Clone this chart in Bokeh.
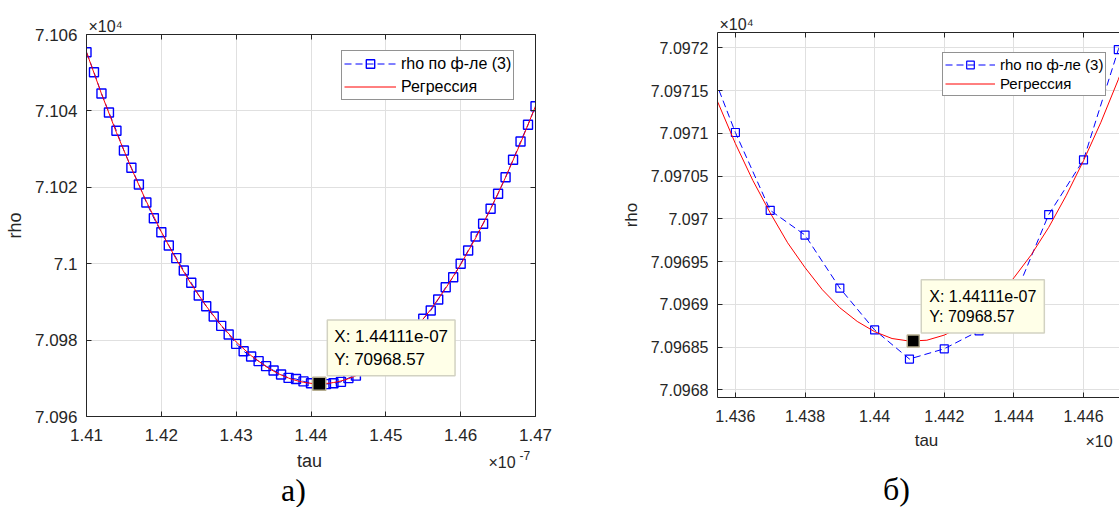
from bokeh.plotting import figure
from bokeh.models import (FixedTicker, CustomJSTickFormatter, LinearAxis, Label,
                          Legend, LegendItem, Range1d, Title)
from bokeh.layouts import row, column
from bokeh.embed import file_html
from bokeh.resources import INLINE

# ---------------- data ----------------
TAU_UNIT = 1e-7
tau_e7 = [1.410, 1.411, 1.412, 1.413, 1.414, 1.415, 1.416, 1.417, 1.418, 1.419,
          1.420, 1.421, 1.422, 1.423, 1.424, 1.425, 1.426, 1.427, 1.428, 1.429,
          1.430, 1.431, 1.432, 1.433, 1.434, 1.435, 1.436, 1.437, 1.438, 1.439,
          1.440, 1.441, 1.442, 1.443, 1.444, 1.445, 1.446, 1.447, 1.448, 1.449,
          1.450, 1.451, 1.452, 1.453, 1.454, 1.455, 1.456, 1.457, 1.458, 1.459,
          1.460, 1.461, 1.462, 1.463, 1.464, 1.465, 1.466, 1.467, 1.468, 1.469,
          1.470]
rho = [71055.37, 71050.13, 71044.55, 71039.58, 71034.79, 71029.63, 71025.10, 71020.73,
       71016.02, 71011.91, 71008.25, 71004.76, 71001.45, 70998.22, 70995.00, 70991.68,
       70988.88, 70986.18, 70983.73, 70981.47, 70979.02, 70977.10, 70975.71, 70974.49,
       70973.18, 70972.06, 70971.01, 70970.10, 70969.81, 70969.19, 70968.70, 70968.36,
       70968.48, 70968.69, 70969.07, 70970.05, 70970.69, 70971.98, 70972.90, 70974.10,
       70975.60, 70977.20, 70979.00, 70981.00, 70983.20, 70985.58, 70987.75, 70990.63,
       70993.85, 70996.47, 70999.97, 71003.46, 71007.12, 71010.44, 71014.37, 71018.30,
       71022.64, 71027.20, 71032.00, 71036.36, 71041.23]

reg_tau_e7 = [1.410, 1.412, 1.414, 1.416, 1.418, 1.420, 1.422, 1.424, 1.426, 1.428,
              1.430, 1.432, 1.434, 1.435, 1.4355, 1.436, 1.4365, 1.437, 1.4375, 1.438,
              1.4385, 1.439, 1.4395, 1.440, 1.4405, 1.441, 1.4415, 1.442, 1.4425, 1.443,
              1.4435, 1.444, 1.4445, 1.445, 1.4455, 1.446, 1.4465, 1.447, 1.4475, 1.448,
              1.450, 1.452, 1.454, 1.456, 1.458, 1.460, 1.462, 1.464, 1.466, 1.468, 1.470]
reg_rho = [71055.37, 71044.49, 71034.35, 71024.95, 71016.28, 71008.34, 71001.13, 70994.65,
           70988.89, 70983.85, 70979.53, 70975.93, 70973.05, 70971.88, 70971.36, 70970.88,
           70970.45, 70970.07, 70969.72, 70969.43, 70969.17, 70968.96, 70968.80, 70968.68,
           70968.60, 70968.57, 70968.58, 70968.64, 70968.74, 70968.89, 70969.07, 70969.31,
           70969.58, 70969.90, 70970.27, 70970.68, 70971.13, 70971.63, 70972.17, 70972.75,
           70975.52, 70978.99, 70983.15, 70988.01, 70993.56, 70999.79, 71006.71, 71014.32,
           71022.61, 71031.58, 71041.23]

tip_tau_e7 = 1.44111
tip_rho = 70968.57

series_label = "rho по ф-ле (3)"
reg_label = "Регрессия"
x_title = "tau"
y_title = "rho"

# panel a) axes
a_xlim_e7 = (1.41, 1.47)
a_ylim = (70960, 71060)
a_xticks_e7 = [1.41, 1.42, 1.43, 1.44, 1.45, 1.46, 1.47]
a_xlabels = ["1.41", "1.42", "1.43", "1.44", "1.45", "1.46", "1.47"]
a_yticks = [70960, 70980, 71000, 71020, 71040, 71060]
a_ylabels = ["7.096", "7.098", "7.1", "7.102", "7.104", "7.106"]

# panel б) axes
b_xlim_e7 = (1.435486, 1.447034)
b_ylim = (70967.91, 70972.18)
b_xticks_e7 = [1.436, 1.438, 1.440, 1.442, 1.444, 1.446]
b_xlabels = ["1.436", "1.438", "1.44", "1.442", "1.444", "1.446"]
b_yticks = [70968, 70968.5, 70969, 70969.5, 70970, 70970.5, 70971, 70971.5, 70972]
b_ylabels = ["7.0968", "7.09685", "7.0969", "7.09695", "7.097", "7.09705",
             "7.0971", "7.09715", "7.0972"]

tau = [t * TAU_UNIT for t in tau_e7]
reg_tau = [t * TAU_UNIT for t in reg_tau_e7]
tip_tau = tip_tau_e7 * TAU_UNIT

AX = "#262626"
GRID = "#e0e0e0"
FONT = "Liberation Sans"
SERIF = "Liberation Serif"


def fmt(tick_values, tick_texts):
    return CustomJSTickFormatter(args=dict(tv=tick_values, tt=tick_texts), code="""
        let best = 0, bd = Infinity;
        for (let i = 0; i < tv.length; i++) {
            const d = Math.abs(tv[i] - tick);
            if (d < bd) { bd = d; best = i; }
        }
        return tt[best];
    """)


def style_axis(ax, fs):
    ax.axis_line_color = AX
    ax.axis_line_width = 1
    ax.major_tick_line_color = AX
    ax.major_tick_in = 5
    ax.major_tick_out = 0
    ax.minor_tick_line_color = None
    ax.major_label_text_color = AX
    ax.major_label_text_font = FONT
    ax.major_label_text_font_size = fs


def blank_axis(tick_values):
    ax = LinearAxis(ticker=FixedTicker(ticks=tick_values),
                    formatter=CustomJSTickFormatter(code="return '';"))
    style_axis(ax, "0px")
    ax.major_label_standoff = 0
    return ax


def make_panel(cfg):
    xlim = (cfg["xlim"][0] * TAU_UNIT, cfg["xlim"][1] * TAU_UNIT)
    ylim = cfg["ylim"]
    xt = [t * TAU_UNIT for t in cfg["xticks"]]
    p = figure(frame_width=cfg["fw"], frame_height=cfg["fh"],
               min_border_left=cfg["mbl"], min_border_right=cfg["mbr"],
               min_border_top=cfg["mbt"], min_border_bottom=cfg["mbb"],
               x_range=Range1d(*xlim), y_range=Range1d(*ylim),
               toolbar_location=None, output_backend="svg",
               background_fill_color="white", border_fill_color="white",
               outline_line_color=None)
    fs = cfg["tick_fs"]
    xa = p.xaxis[0]
    ya = p.yaxis[0]
    xa.ticker = FixedTicker(ticks=xt)
    xa.formatter = fmt(xt, cfg["xlabels"])
    ya.ticker = FixedTicker(ticks=cfg["yticks"])
    ya.formatter = fmt(cfg["yticks"], cfg["ylabels"])
    style_axis(xa, fs)
    style_axis(ya, fs)
    xa.major_label_standoff = 12
    ya.major_label_standoff = 9
    ya.axis_label = y_title
    ya.axis_label_text_font = FONT
    ya.axis_label_text_font_size = cfg["lab_fs"]
    ya.axis_label_text_font_style = "normal"
    ya.axis_label_text_color = AX
    ya.axis_label_standoff = 7
    p.xgrid.ticker = FixedTicker(ticks=xt)
    p.ygrid.ticker = FixedTicker(ticks=cfg["yticks"])
    for g in (p.xgrid[0], p.ygrid[0]):
        g.grid_line_color = GRID
        g.grid_line_width = 1
    p.add_layout(blank_axis(xt), "above")
    if cfg["right_axis"]:
        p.add_layout(blank_axis(cfg["yticks"]), "right")
    # exponent of the y axis, above the frame
    p.add_layout(Title(text="\u00d710\u2074", align="left", offset=cfg["e4_dx"],
                       standoff=0, text_font=FONT, text_font_size=cfg["exp_fs"],
                       text_font_style="normal", text_color=AX), "above")

    line_r = p.line(tau, rho, line_color="#0000ff", line_width=1, line_dash="7 4")
    sc_r = p.scatter(tau, rho, marker="square", size=cfg["msize"], line_color="#0000ff",
                     fill_color=None, line_width=cfg["mlw"])
    reg_r = p.line(reg_tau, reg_rho, line_color="#ff0000", line_width=1)
    p.scatter([tip_tau], [tip_rho], marker="square", size=cfg["tip_size"],
              fill_color="black", line_color="#b5ad8f", line_width=1.5)

    leg = Legend(items=[LegendItem(label=series_label, renderers=[line_r, sc_r]),
                        LegendItem(label=reg_label, renderers=[reg_r])],
                 location=cfg["leg_loc"], orientation="vertical",
                 border_line_color=AX, border_line_width=1,
                 background_fill_color="white", background_fill_alpha=1,
                 label_text_font=FONT, label_text_font_size=cfg["leg_fs"],
                 label_text_color="black",
                 glyph_width=cfg["glyph_w"], glyph_height=cfg["row_h"],
                 label_height=cfg["row_h"], label_standoff=5,
                 spacing=cfg["leg_spacing"], padding=2, margin=0)
    p.add_layout(leg)

    tip_text = f"X: {tip_tau_e7}e-07\nY: {tip_rho:.2f}"
    p.add_layout(Label(x=tip_tau, y=tip_rho, text=tip_text,
                       x_offset=cfg["tip_off"][0], y_offset=cfg["tip_off"][1],
                       text_align="left", text_baseline="bottom",
                       text_font=FONT, text_font_size=cfg["tip_fs"], text_color="black",
                       background_fill_color="#ffffe8", background_fill_alpha=1,
                       border_line_color="#d2d2c2", border_line_width=1.5,
                       padding=cfg["tip_pad"]))

    # strip under the panel: axis title, exponent of x and the panel letter
    H = cfg["strip_h"]
    s = figure(frame_width=cfg["fw"], frame_height=H, title=None,
               min_border_left=cfg["mbl"], min_border_right=cfg["mbr"],
               min_border_top=0, min_border_bottom=0,
               x_range=Range1d(*xlim), y_range=Range1d(0, H),
               x_axis_type=None, y_axis_type=None,
               toolbar_location=None, output_backend="svg",
               background_fill_color="white", border_fill_color="white",
               outline_line_color=None)
    x0 = xlim[0]

    def lab(text, xo, ypx, fsz, font=FONT, align="left", color=AX):
        s.add_layout(Label(x=x0, y=ypx, x_offset=xo, text=text,
                           text_font=font, text_font_size=fsz, text_color=color,
                           text_align=align, text_baseline="alphabetic"))

    lab(x_title, cfg["tau_pos"][0], cfg["tau_pos"][1], cfg["lab_fs"], align="center")
    lab("\u00d710", cfg["e7_pos"][0], cfg["e7_pos"][1], cfg["exp_fs"])
    if cfg["show_e7_sup"]:
        lab("-7", cfg["e7_pos"][0] + cfg["exp_dx"], cfg["e7_pos"][1] + 7, cfg["sup_fs"])
    lab(cfg["panel"], cfg["pan_pos"][0], cfg["pan_pos"][1], "32px",
        font=SERIF, align="center", color="black")
    return column(p, s)


cfg_a = dict(xlim=a_xlim_e7, ylim=a_ylim, xticks=a_xticks_e7, xlabels=a_xlabels,
             yticks=a_yticks, ylabels=a_ylabels,
             fw=449, fh=382, mbl=86, mbr=65, mbt=34, mbb=34, strip_h=57,
             right_axis=True,
             tick_fs="17px", lab_fs="18px", leg_fs="16px", tip_fs="17px",
             exp_fs="16px", sup_fs="12px", exp_dx=31, e4_dx=2,
             msize=9, mlw=1.4, tip_size=13,
             leg_loc=(255, 316), glyph_w=52, row_h=21, leg_spacing=2,
             tip_off=(8, 8), tip_pad=7, tau_pos=(223, 47), e7_pos=(402, 45),
             show_e7_sup=True, pan_pos=(207, 18), panel="а)")

cfg_b = dict(xlim=b_xlim_e7, ylim=b_ylim, xticks=b_xticks_e7, xlabels=b_xlabels,
             yticks=b_yticks, ylabels=b_ylabels,
             fw=402, fh=365, mbl=117, mbr=0, mbt=32, mbb=34, strip_h=76,
             right_axis=False,
             tick_fs="16px", lab_fs="17px", leg_fs="15px", tip_fs="16px",
             exp_fs="16px", sup_fs="12px", exp_dx=31, e4_dx=2,
             msize=8, mlw=1.2, tip_size=12,
             leg_loc=(225, 301), glyph_w=50, row_h=19, leg_spacing=0,
             tip_off=(8, 8), tip_pad=8, tau_pos=(209, 67), e7_pos=(368, 66),
             show_e7_sup=False, pan_pos=(179, 19), panel="б)")

col_a = make_panel(cfg_a)
col_b = make_panel(cfg_b)

layout = row(col_a, col_b)
open("out.html", "w").write(file_html(layout, INLINE))
